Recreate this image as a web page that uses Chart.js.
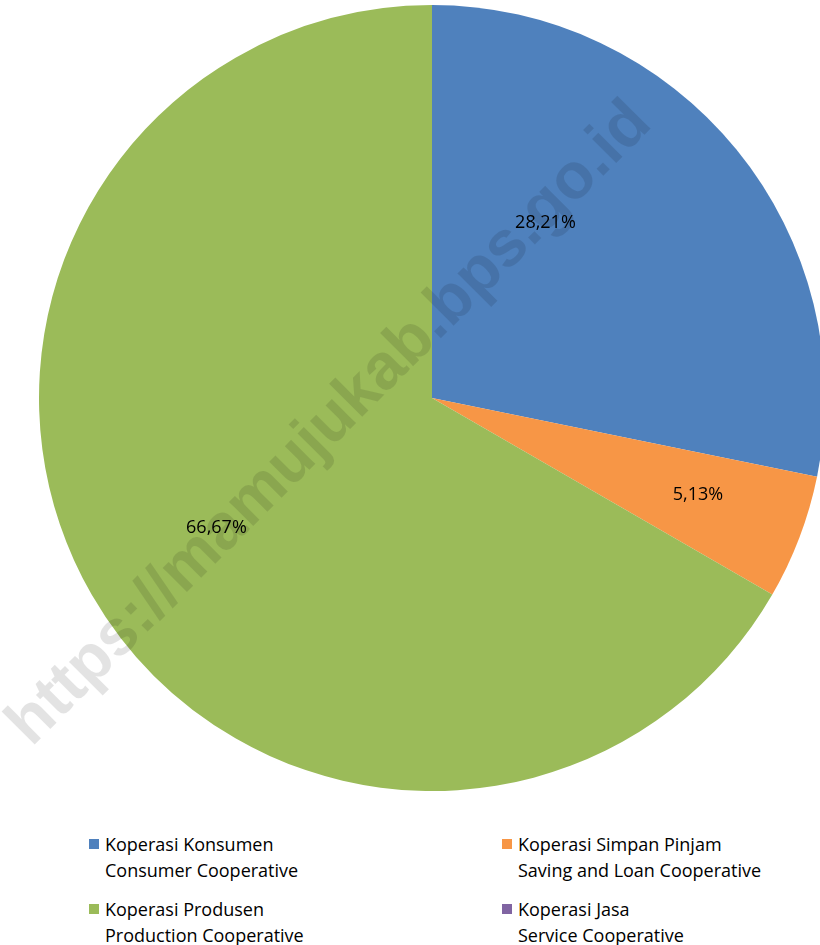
<!DOCTYPE html>
<html>
<head>
<meta charset="utf-8">
<script src="https://cdn.jsdelivr.net/npm/chart.js@4"></script>
<style>
  body { margin: 0; background: #fff; overflow: hidden; width: 820px; height: 945px; }
  #wrap { position: relative; width: 820px; height: 945px; overflow: hidden; }
  #chart { position: absolute; left: 0; top: 0; }
  #legend { position: absolute; left: 0; top: 831px; width: 820px; font-family: "Open Sans", sans-serif; font-size: 18px; color: #000; }
  .item { position: absolute; line-height: 26px; padding-left: 16px; white-space: nowrap; }
  .item span.box { position: absolute; left: 0; top: 8px; width: 10px; height: 10px; }
</style>
</head>
<body>
<div id="wrap">
  <canvas id="chart" width="864" height="796"></canvas>
  <div id="legend"></div>
</div>
<script>
const labelsId = ['Koperasi Konsumen', 'Koperasi Simpan Pinjam', 'Koperasi Produsen', 'Koperasi Jasa'];
const labelsEn = ['Consumer Cooperative', 'Saving and Loan Cooperative', 'Production Cooperative', 'Service Cooperative'];
const shares = [28.21, 5.13, 66.67, 0];
const colors = ['#4F81BD', '#F79646', '#9BBB59', '#8064A2'];

// where each value label sits: angle (deg clockwise from top) and fraction of radius
const labelPlace = [{a: 33, r: 0.53}, {a: 110, r: 0.72}, {a: 239, r: 0.64}, null];

const watermark = {
    id: 'watermark',
    afterDatasetsDraw(chart) {
        const c = chart.ctx;
        const text = 'https://mamujukab.bps.go.id';
        c.save();
        c.translate(330, 424);
        c.rotate(-Math.PI / 4);
        c.font = 'bold 60px "Liberation Sans", Arial, sans-serif';
        const w = c.measureText(text).width;
        const size = 60 * 880 / w;
        c.font = 'bold ' + size + 'px "Liberation Sans", Arial, sans-serif';
        c.fillStyle = 'rgba(0,0,0,0.11)';
        c.textAlign = 'center';
        c.textBaseline = 'middle';
        c.fillText(text, 0, 0);
        c.restore();
    }
};

const valueLabels = {
    id: 'valueLabels',
    afterDraw(chart) {
        const c = chart.ctx;
        const meta = chart.getDatasetMeta(0);
        c.save();
        c.font = '18px "Open Sans", sans-serif';
        c.fillStyle = '#000';
        c.textAlign = 'center';
        c.textBaseline = 'middle';
        meta.data.forEach((arc, i) => {
            const v = shares[i];
            if (!v || !labelPlace[i]) return;
            const p = labelPlace[i];
            const ang = (p.a - 90) * Math.PI / 180;
            const x = arc.x + Math.cos(ang) * arc.outerRadius * p.r;
            const y = arc.y + Math.sin(ang) * arc.outerRadius * p.r;
            c.fillText(v.toFixed(2).replace('.', ',') + '%', x, y);
        });
        c.restore();
    }
};

const myChart = new Chart(document.getElementById('chart'), {
    type: 'pie',
    data: {
        labels: labelsId,
        datasets: [{
            data: shares,
            backgroundColor: colors,
            borderWidth: 0,
            offset: 0,
            hoverOffset: 0
        }]
    },
    options: {
        responsive: false,
        animation: false,
        layout: { padding: { top: 5, bottom: 5, left: 0, right: 0 } },
        plugins: {
            legend: { display: false },
            tooltip: { enabled: false }
        }
    },
    plugins: [watermark, valueLabels]
});

// html legend, two columns, two lines per entry
const legend = document.getElementById('legend');
const colX = [89, 502];
const rowY = [0, 65];
labelsId.forEach((name, i) => {
    const d = document.createElement('div');
    d.className = 'item';
    d.style.left = colX[i % 2] + 'px';
    d.style.top = rowY[Math.floor(i / 2)] + 'px';
    d.innerHTML = '<span class="box" style="background:' + colors[i] + '"></span>' + name + '<br>' + labelsEn[i];
    legend.appendChild(d);
});
</script>
</body>
</html>
